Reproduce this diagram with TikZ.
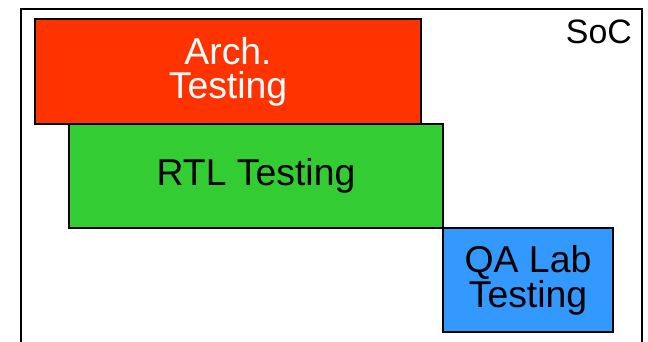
\documentclass[tikz,border=0pt]{standalone}
\usepackage{fontspec}
\setmainfont{Liberation Sans}
\usepackage{xcolor}
\usetikzlibrary{positioning}
\definecolor{archred}{HTML}{FF3300}
\definecolor{rtlgreen}{HTML}{33CC33}
\definecolor{labblue}{HTML}{3399FF}
\tikzset{
  phase/.style ={rectangle,draw=black,line width=1.3pt,inner sep=0pt,align=center,
                 font=\fontsize{37.5}{34}\selectfont},
  arch/.style  ={fill=archred,text=white},
  rtl/.style   ={fill=rtlgreen},
  lab/.style   ={fill=labblue},
  soc/.style   ={draw=black,line width=2.4pt},
}
\begin{document}
\begin{tikzpicture}[x=1bp,y=-1bp]
  \clip (0,0) rectangle (648,341);
  \fill[white] (0,0) rectangle (648,341);
  \draw[soc] (21,9) rectangle (642,380);
  \node[anchor=north east,inner sep=0pt,font=\fontsize{34}{34}\selectfont] (soc) at (632,20) {SoC};
  \node[phase,arch,minimum width=386bp,minimum height=105bp] (arch) at (228,71.5) {Arch.\\Testing};
  \node[phase,rtl,minimum width=374bp,minimum height=104bp] (rtlt) at (256,176) {RTL Testing};
  \node[phase,lab,minimum width=170bp,minimum height=104bp] (qalab) at (528,280) {QA Lab\\Testing};
\end{tikzpicture}
\end{document}
